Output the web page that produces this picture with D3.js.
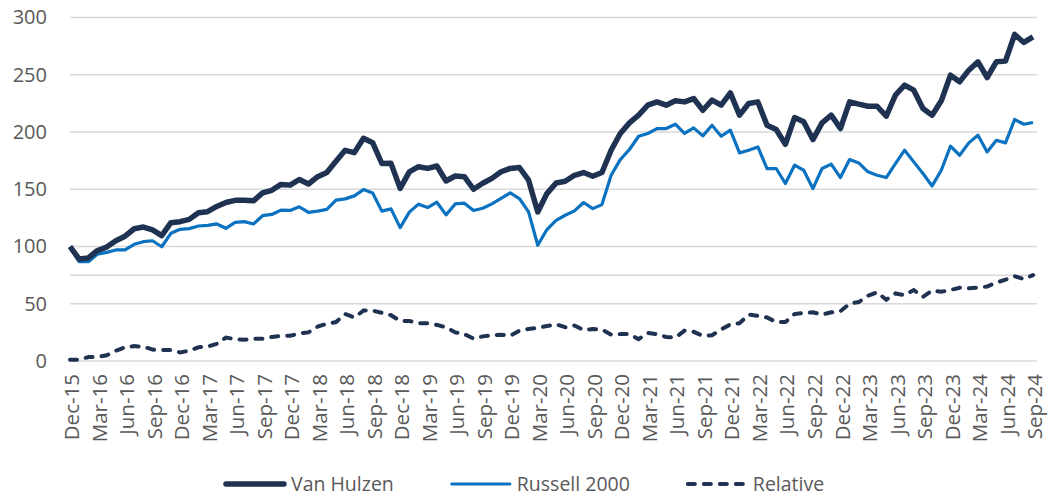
<!DOCTYPE html>
<html>
<head>
<meta charset="utf-8">
<script src="https://cdn.jsdelivr.net/npm/d3@7"></script>
<style>
  body { margin: 0; background: #fff; }
  text { font-family: "Open Sans", sans-serif; fill: #595959; }
</style>
</head>
<body>
<div id="container"></div>
<script>
// month categories Dec-15 .. Sep-24
const months = d3.timeMonth.range(new Date(2015, 11, 1), new Date(2024, 9, 1)).map(d3.timeFormat('%b-%y'));

const vanHulzen = [
  100, 89, 90, 96.5, 99.5, 105, 109, 115.5, 117, 114.5, 109.5, 120.8,
  121.7, 123.7, 129.5, 130.4, 135, 138.4, 140.3, 140.3, 139.9, 146.8, 149.1, 154.2,
  153.6, 158.5, 154.6, 161, 164.7, 174.5, 184, 182, 194.5, 190.7, 172.5, 172.6,
  150.8, 165.2, 169.7, 168.2, 170.3, 157.2, 161.6, 161, 150, 155.2, 159.5, 165.3,
  168.2, 169, 157.9, 130.2, 146.2, 155.5, 157, 162.2, 164.6, 161.4, 164.6, 184.1,
  198.7, 208, 214.7, 223.4, 226.3, 223.4, 227.2, 226.3, 229.2, 219, 227.8, 223.4,
  234.2, 214.7, 224.9, 226.3, 205.9, 202.2, 189.3, 212.6, 208.9, 193.4, 208, 214.7,
  203, 226.3, 224.3, 222.5, 222.5, 213.8, 232.2, 240.9, 236.5, 220.5, 214.7, 227.2,
  249.6, 243.8, 254, 261.3, 247.6, 261.3, 261.9, 285.2, 278.2, 283.1
];

const russell2000 = [
  99, 86.7, 86.7, 93.4, 94.9, 97, 97, 101.9, 104.2, 105, 99.8, 111.5,
  115, 115.6, 117.9, 118.5, 119.7, 115.9, 121.1, 121.7, 119.7, 126.9, 128, 131.8,
  131.5, 134.7, 129.8, 130.9, 132.4, 140.5, 141.6, 144.2, 149.7, 146.8, 130.9, 132.9,
  116.5, 130, 137, 134, 138.7, 127.6, 137.2, 137.8, 131.4, 133.4, 137.2, 142,
  146.8, 141.9, 130.2, 101.1, 114.8, 122.9, 127.3, 131.1, 138.4, 133.1, 136.6, 162.2,
  175.9, 184.7, 196.3, 198.7, 203, 203, 206.8, 198.7, 203.6, 196.6, 205.9, 196.3,
  201.6, 181.8, 184.1, 187, 168.1, 168.1, 155, 171, 166.6, 150.6, 168.1, 171.9,
  160.2, 175.9, 173, 165.2, 162.2, 160.2, 172.4, 184.1, 173.9, 163.7, 152.9, 166.6,
  187.6, 179.7, 190.5, 197.2, 182.6, 192.8, 190.5, 210.9, 206.8, 208.3
];

const relative = [
  1, 1, 3.5, 3.5, 5, 9, 12, 13, 12.5, 10, 9.5, 9.5,
  7.5, 9, 12, 12.5, 15, 20.5, 19, 18.5, 19.5, 19.5, 21, 22,
  22, 24, 25, 30, 32.5, 34, 41, 38, 44, 44, 42, 40,
  35, 35, 33, 33, 31.5, 29.5, 25, 23.5, 19.5, 21.5, 22.5, 23,
  22, 26.5, 28, 29, 30.5, 32, 29.5, 31, 27, 28, 27.5, 23,
  23.5, 23.5, 19, 24.5, 23.5, 21, 20.5, 26.5, 25.5, 22, 22.5, 27.5,
  32, 33, 40.5, 39.5, 38, 34, 34, 41, 42, 42.5, 40.5, 42.5,
  43.5, 50, 51.5, 57, 60, 53.5, 59, 57.5, 62, 56, 61.5, 60.5,
  62, 64, 63.5, 64, 65, 68.5, 71, 74, 71.5, 75
];

const yTicks = [0, 50, 100, 150, 200, 250, 300];
const gridValues = [0, 50, 75, 100, 150, 200, 250, 300];
const xTicks = months.filter((d, i) => i % 3 === 0);

const width = 1052;
const height = 498;
const margin = { top: 17.5, right: 15, bottom: 137, left: 70 };
const navy = '#1f3251';
const blue = '#0a72c0';

const svg = d3.select('#container')
  .append('svg')
  .attr('width', width)
  .attr('height', height);

const x = d3.scalePoint()
  .domain(months)
  .range([margin.left, 1033]);

const y = d3.scaleLinear()
  .domain([0, 300])
  .range([height - margin.bottom, margin.top]);

// gridlines
svg.append('g')
  .selectAll('line')
  .data(gridValues)
  .join('line')
    .attr('x1', margin.left)
    .attr('x2', width - margin.right)
    .attr('y1', d => y(d))
    .attr('y2', d => y(d))
    .attr('stroke', '#d9d9d9')
    .attr('stroke-width', 1.5);

function yAxis(g) {
  g.attr('transform', `translate(${margin.left},0)`)
    .call(d3.axisLeft(y).tickValues(yTicks).tickSize(0).tickPadding(23))
    .call(g => g.select('.domain').remove())
    .selectAll('text')
      .attr('font-size', '20px')
      .attr('font-family', '"Open Sans", sans-serif')
      .style('fill', '#595959');
}

function xAxis(g) {
  g.attr('transform', `translate(0,${y(0)})`)
    .call(d3.axisBottom(x).tickValues(xTicks).tickSize(0))
    .call(g => g.select('.domain').remove())
    .selectAll('text')
      .attr('transform', 'rotate(-90)')
      .attr('text-anchor', 'end')
      .attr('x', -13)
      .attr('y', 0)
      .attr('dy', '0.42em')
      .attr('font-size', '20.5px')
      .attr('font-family', '"Open Sans", sans-serif')
      .style('fill', '#595959');
}

svg.append('g').call(xAxis);
svg.append('g').call(yAxis);

const line = d3.line()
  .x((d, i) => x(months[i]))
  .y(d => y(d));

svg.append('path')
  .datum(relative)
  .attr('fill', 'none')
  .attr('stroke', navy)
  .attr('stroke-width', 4)
  .attr('stroke-linecap', 'round')
  .attr('stroke-dasharray', '7,9')
  .attr('d', line);

svg.append('path')
  .datum(russell2000)
  .attr('fill', 'none')
  .attr('stroke', blue)
  .attr('stroke-width', 3.2)
  .attr('stroke-linejoin', 'round')
  .attr('d', line);

svg.append('path')
  .datum(vanHulzen)
  .attr('fill', 'none')
  .attr('stroke', navy)
  .attr('stroke-width', 5.5)
  .attr('stroke-linejoin', 'round')
  .attr('d', line);

// legend
const legendItems = [
  { name: 'Van Hulzen', color: navy, w: 5.5, dash: null },
  { name: 'Russell 2000', color: blue, w: 3.2, dash: null },
  { name: 'Relative', color: navy, w: 4, dash: '7,9' }
];
const legend = svg.append('g').attr('transform', 'translate(0,484)');
let lx = 226;
legendItems.forEach(item => {
  legend.append('line')
    .attr('x1', lx).attr('x2', lx + 58)
    .attr('y1', 0).attr('y2', 0)
    .attr('stroke', item.color)
    .attr('stroke-width', item.w)
    .attr('stroke-linecap', 'round')
    .attr('stroke-dasharray', item.dash);
  const t = legend.append('text')
    .attr('x', lx + 65)
    .attr('y', 0)
    .attr('dy', '0.35em')
    .attr('font-size', '19.5px')
    .text(item.name);
  lx += 65 + t.node().getComputedTextLength() + 58;
});
</script>
</body>
</html>
